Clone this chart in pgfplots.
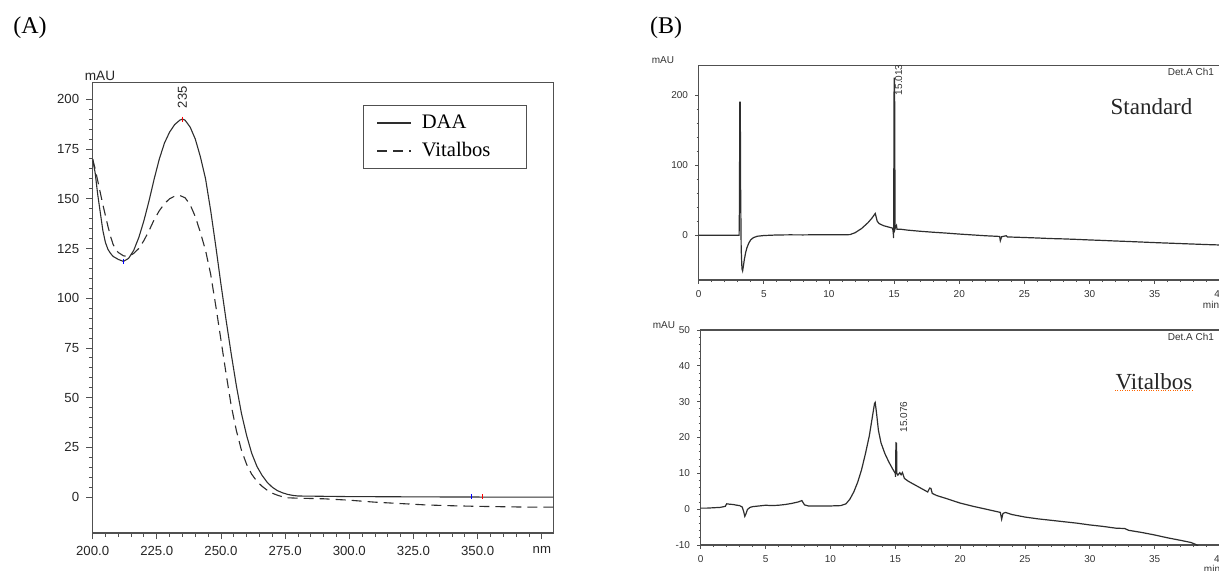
\documentclass[border=0pt]{standalone}
\usepackage{fontspec}
\setmainfont{Liberation Serif}
\setsansfont{Liberation Sans}
\usepackage{pgfplots}
\pgfplotsset{compat=1.18}

\definecolor{trace}{HTML}{2E2E2E}
\definecolor{frame}{HTML}{505050}

\pgfplotsset{
  hplc/.style={
    scale only axis,
    axis line style={frame, line width=0.55pt},
    every tick/.style={frame, line width=0.4pt},
    tick align=outside, xtick pos=left, ytick pos=left,
    major tick length=1.8pt, minor tick length=1.1pt,
    tick label style={font=\sffamily\fontsize{5}{6}\selectfont, text=black!80},
    /pgf/number format/assume math mode=true,
    minor x tick num=4, minor y tick num=4,
    xmin=0, xmax=42, xtick={0,5,...,40},
    clip mode=individual,
  }
}

\begin{document}
\begin{tikzpicture}[x=0.5pt,y=0.5pt]
\useasboundingbox (0,0) rectangle (1219,570);
\begin{scope}
\clip (0,0) rectangle (1219,570);

% ---------- panel A: UV spectra ----------
\node[font=\rmfamily\fontsize{12}{14}\selectfont] at (30,542) {(A)};
\node[font=\sffamily\fontsize{6.8}{8}\selectfont, text=black!85] at (100,494) {mAU};

\begin{axis}[
  at={(46.3pt,18.5pt)}, anchor=south west, scale only axis,
  width=230.4pt, height=225.15pt,
  xmin=200, xmax=379.5, ymin=-18, ymax=208.3,
  axis line style={frame, line width=0.55pt},
  every tick/.style={frame, line width=0.45pt},
  tick align=outside, xtick pos=left, ytick pos=left,
  major tick length=3.2pt, minor tick length=1.9pt,
  xtick={200,225,...,375},
  xticklabels={200.0,225.0,250.0,275.0,300.0,325.0,350.0,nm},
  ytick={0,25,...,200},
  minor x tick num=4, minor y tick num=4,
  tick label style={font=\sffamily\fontsize{6.6}{8}\selectfont, text=black!85},
  /pgf/number format/assume math mode=true,
  legend style={at={(0.587,0.95)}, anchor=north west, draw=frame,
    line width=0.5pt, inner xsep=6.5pt, inner ysep=2.5pt, row sep=1.5pt,
    column sep=3pt, font=\rmfamily\fontsize{10.3}{12}\selectfont},
  legend cell align=left,
]
%% DAA
\addplot[trace, line width=0.55pt] coordinates {
  (200,170) (201,163) (202,152) (203,143) (204,134) (205,128) (206,124.5)
  (207,122.5) (208,121) (210,119.5) (212,118.5) (214,120) (216,124)
  (218,130.5) (220,139) (222,149) (224,160) (226,170) (228,178)
  (230,183.5) (232,187.3) (234,189.5) (235,190) (236,189.5) (238,186)
  (240,180) (242,171) (244,160) (246,144) (248,126) (250,107) (252,89)
  (254,72) (256,56) (258,42) (260,31) (262,22) (264,15.5) (266,11)
  (268,7.5) (270,5) (272,3.3) (274,2.2) (276,1.4) (278,0.9) (280,0.6)
  (300,0.3) (340,0.1) (380,0)
};
\addlegendentry{DAA}
%% Vitalbos
\addplot[trace, line width=0.55pt, dash pattern=on 5pt off 3pt] coordinates {
  (200,170) (201,165) (202,159) (203,153) (204,147) (205,141.5) (206,136)
  (207,131) (208,127) (209,124.5) (210,123) (212,121.3) (214,121)
  (216,122.5) (218,125) (220,129) (222,134) (224,139.5) (226,144)
  (228,147.5) (230,150) (232,151.3) (234,151.6) (236,150.5) (238,147)
  (240,141) (242,133) (244,124) (246,112) (248,96) (250,79) (252,62)
  (254,46) (256,33.5) (258,23.5) (260,16.5) (262,11.5) (264,8) (266,5.5)
  (268,3.5) (270,2) (272,1) (274,0.2) (276,-0.3) (280,-0.5) (290,-0.8)
  (300,-1.5) (310,-2.5) (320,-3.2) (330,-3.9) (340,-4.3) (350,-4.6)
  (360,-4.8) (370,-5) (380,-5)
};
\addlegendentry{Vitalbos\rule{9.5pt}{0pt}}
%% peak / valley markers
\addplot[red, only marks, mark=|, mark size=1.2pt, forget plot] coordinates {(235,190) (351.7,0.3)};
\addplot[blue, only marks, mark=|, mark size=1.2pt, forget plot] coordinates {(211.9,118.5) (347.4,0.3)};
\node[rotate=90, anchor=west, font=\sffamily\fontsize{6.5}{8}\selectfont, text=black!85]
  at (axis cs:235,192) {235};
\end{axis}

% ---------- panel B: chromatograms ----------
\node[font=\rmfamily\fontsize{12}{14}\selectfont] at (666,542) {(B)};

% Standard
\node[font=\sffamily\fontsize{5}{6}\selectfont, text=black!80] at (663,510) {mAU};
\begin{axis}[hplc, at={(349.35pt,145pt)}, anchor=south west,
  width=273.6pt, height=107.15pt, ymin=-64, ymax=242, ytick={0,100,200}]
\addplot[trace, line width=0.6pt, no marks] coordinates {
  (0,0) (1,0) (2,0) (3,0) (3.10,0) (3.13,45) (3.15,190) (3.19,190)
  (3.22,60) (3.26,-20) (3.32,-48) (3.37,-51) (3.43,-44) (3.5,-35)
  (3.6,-25) (3.7,-18) (3.85,-11) (4.0,-6.5) (4.2,-3.5) (4.5,-1.5)
  (5.0,-0.5) (6.0,0.3) (7.0,0.5) (8.0,0.4) (9.0,0.6) (10.0,0.5)
  (11.0,0.6) (11.6,0.8) (12.0,3.5) (12.5,9.5) (13.0,18) (13.3,24.5)
  (13.55,31) (13.62,26) (13.7,20) (13.85,16.5) (14.2,13.5) (14.6,11.5)
  (14.88,10) (14.93,4) (14.96,-4) (14.98,110) (15.0,224) (15.03,224)
  (15.05,150) (15.07,9) (15.12,12) (15.18,14) (15.22,8.5) (15.5,8.5)
  (16.0,7.3) (17.0,5.6) (18.0,4.2) (19.0,3.0) (20.0,1.6) (21.0,0.4)
  (22.0,-0.8) (23.1,-1.8) (23.15,-8) (23.25,-2.2) (23.6,-0.8)
  (23.7,-2.5) (25.0,-3.3) (26.0,-4.0) (27.0,-4.8) (28.0,-5.3)
  (29.0,-6.0) (30.0,-6.8) (31.0,-7.5) (32.0,-8.3) (33.0,-9.0)
  (34.0,-9.8) (35.0,-10.6) (36.0,-11.3) (37.0,-12.0) (38.0,-12.7)
  (39.0,-13.4) (40.0,-14.0) (41.0,-14.6) (42.0,-15.2)
};
\node[rotate=90, anchor=west, font=\sffamily\fontsize{5}{6}\selectfont, text=black!80]
  at (axis cs:15.35,190) {15.013};
\end{axis}
\node[anchor=east, font=\sffamily\fontsize{5}{6}\selectfont, text=black!80] at (1221,498) {Det.A Ch1};
\node[font=\rmfamily\fontsize{11.5}{13}\selectfont, text=black!85] at (1151.5,463) {Standard};
\node[font=\sffamily\fontsize{5}{6}\selectfont, text=black!80] at (1211,265) {min};

% Vitalbos
\node[font=\sffamily\fontsize{5}{6}\selectfont, text=black!80] at (664,245) {mAU};
\begin{axis}[hplc, at={(350.35pt,12.5pt)}, anchor=south west,
  width=272.4pt, height=107.5pt, ymin=-10, ymax=50, ytick={-10,0,...,50}]
\addplot[trace, line width=0.6pt, no marks] coordinates {
  (0,0.3) (0.5,0.3) (1.0,0.4) (1.5,0.5) (1.9,0.8) (2.0,1.5) (2.2,1.4)
  (2.5,1.3) (2.8,1.1) (3.0,1.0) (3.2,0.6) (3.3,-0.5) (3.4,-2.0)
  (3.5,-1.2) (3.6,-0.1) (3.8,0.5) (4.0,0.7) (4.5,0.9) (5.0,1.1)
  (5.5,1.0) (6.0,1.1) (6.5,1.3) (7.0,1.6) (7.5,2.0) (7.8,2.4) (8.0,1.2)
  (8.3,0.9) (9.0,0.9) (10.0,0.9) (10.8,1.0) (11.2,1.5) (11.5,2.8)
  (11.8,4.8) (12.1,7.5) (12.4,11) (12.7,15.5) (13.0,20.5) (13.2,25)
  (13.4,29.5) (13.45,29.8) (13.55,27) (13.7,22) (13.9,18.5) (14.2,15.5)
  (14.5,13.2) (14.8,11.2) (15.0,10) (15.02,9) (15.05,18.5) (15.1,18.4)
  (15.12,10) (15.2,9.5) (15.35,10.2) (15.45,9.6) (15.55,10.2) (15.7,8.6)
  (16.0,7.8) (16.5,6.8) (17.0,5.8) (17.5,4.8) (17.65,5.9) (17.75,5.8)
  (17.85,4.4) (18.2,3.8) (19.0,2.9) (20.0,1.7) (21.0,0.8) (22.0,0.0)
  (23.1,-0.9) (23.2,-2.8) (23.3,-1.2) (23.5,-0.9) (24.0,-1.5)
  (25.0,-2.2) (26.0,-2.7) (27.0,-3.1) (28.0,-3.5) (29.0,-3.9)
  (30.0,-4.4) (31.0,-4.8) (32.0,-5.3) (32.7,-5.4) (32.8,-5.6)
  (33.0,-5.9) (34.0,-6.5) (35.0,-7.2) (36.0,-8.0) (37.0,-8.7)
  (37.8,-9.3) (38.2,-9.9) (38.4,-10.5)
};
\node[rotate=90, anchor=west, font=\sffamily\fontsize{5}{6}\selectfont, text=black!80]
  at (axis cs:15.65,19.5) {15.076};
\end{axis}
\node[anchor=east, font=\sffamily\fontsize{5}{6}\selectfont, text=black!80] at (1221,233) {Det.A Ch1};
\node[font=\rmfamily\fontsize{11.5}{13}\selectfont, text=black!85] at (1154,188) {Vitalbos};
\draw[orange!80!red, line width=0.5pt, dash pattern=on 0.5pt off 0.7pt] (1115,180) -- (1193,180);
\node[font=\sffamily\fontsize{5}{6}\selectfont, text=black!80] at (1212,1) {min};
\end{scope}
\end{tikzpicture}
\end{document}
